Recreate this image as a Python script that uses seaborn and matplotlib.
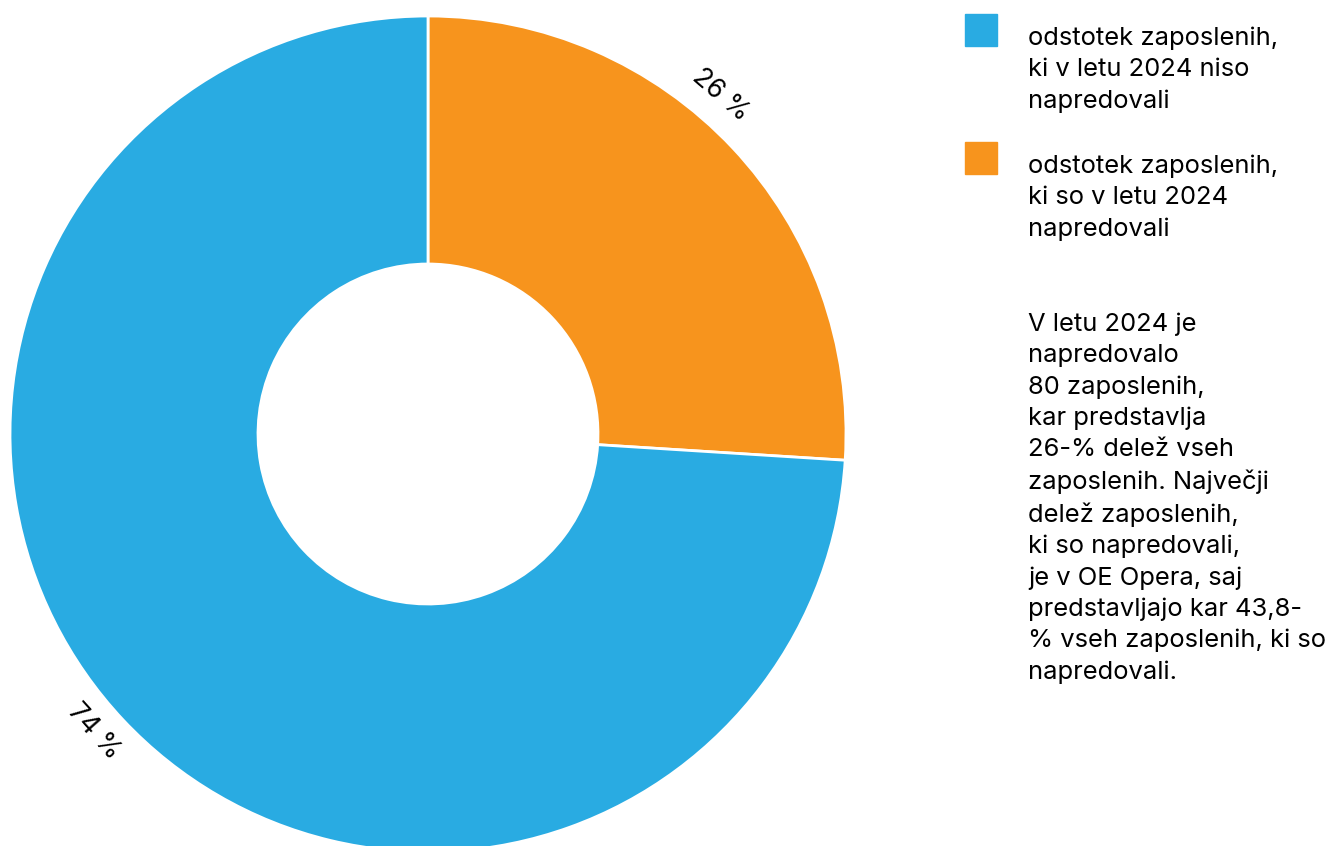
import seaborn as sns
import matplotlib.pyplot as plt
from matplotlib.patches import Rectangle
import numpy as np

categories = ["odstotek zaposlenih,\nki v letu 2024 niso\nnapredovali",
              "odstotek zaposlenih,\nki so v letu 2024\nnapredovali"]
values = [74, 26]
labels = ["74 %", "26 %"]
colors = ["#29abe2", "#f7941d"]
note = ("V letu 2024 je\nnapredovalo\n80 zaposlenih,\nkar predstavlja\n26-% delež vseh\n"
        "zaposlenih. Največji\ndelež zaposlenih,\nki so napredovali,\nje v OE Opera, saj\n"
        "predstavljajo kar 43,8-\n% vseh zaposlenih, ki so\nnapredovali.")

sns.set_theme(style="white")
plt.rcParams['font.family'] = ['Inter', 'DejaVu Sans']
plt.rcParams['text.color'] = 'black'

W, H = 1332, 846
fig = plt.figure(figsize=(W / 100, H / 100), dpi=100)
# donut: centre (428, 434) px, outer radius 418 px
cx, cy, r = 428, 434, 418
ax = fig.add_axes([(cx - r) / W, (H - cy - r) / H, 2 * r / W, 2 * r / H])

# orange first from 12 o'clock, clockwise; blue afterwards
order = [1, 0]
lab_shift = {0: -1.5, 1: 6}  # small nudge of label angle (deg)
wedges, _ = ax.pie([values[i] for i in order], colors=[colors[i] for i in order],
                   startangle=90, counterclock=False, radius=1,
                   wedgeprops=dict(width=1 - 170 / 418, edgecolor="white", linewidth=2))
for w, i in zip(wedges, order):
    ang = (w.theta1 + w.theta2) / 2
    a = ang + lab_shift[i]
    x = 1.07 * np.cos(np.deg2rad(a))
    y = 1.07 * np.sin(np.deg2rad(a))
    rot = a - 90
    if rot < -90:
        rot += 180
    if rot > 90:
        rot -= 180
    ax.text(x, y, labels[i], ha="center", va="center", rotation=rot,
            rotation_mode="anchor", fontsize=19, color="black")
ax.set_xlim(-1, 1)
ax.set_ylim(-1, 1)
ax.set_aspect("auto")
ax.axis("off")

# legend
for k, (lab, col) in enumerate(zip(categories, colors)):
    top = 14 + k * 128
    fig.add_artist(Rectangle((965 / W, 1 - (top + 32) / H), 32 / W, 32 / H,
                             transform=fig.transFigure, color=col))
    fig.text(1028 / W, 1 - (top + 13) / H, lab, ha="left", va="top",
             fontsize=18.4, linespacing=1.44, color="black")

fig.text(1028 / W, 1 - 313 / H, note, ha="left", va="top", fontsize=18.4,
         linespacing=1.43, color="black")

fig.savefig("out.png", dpi=100)
